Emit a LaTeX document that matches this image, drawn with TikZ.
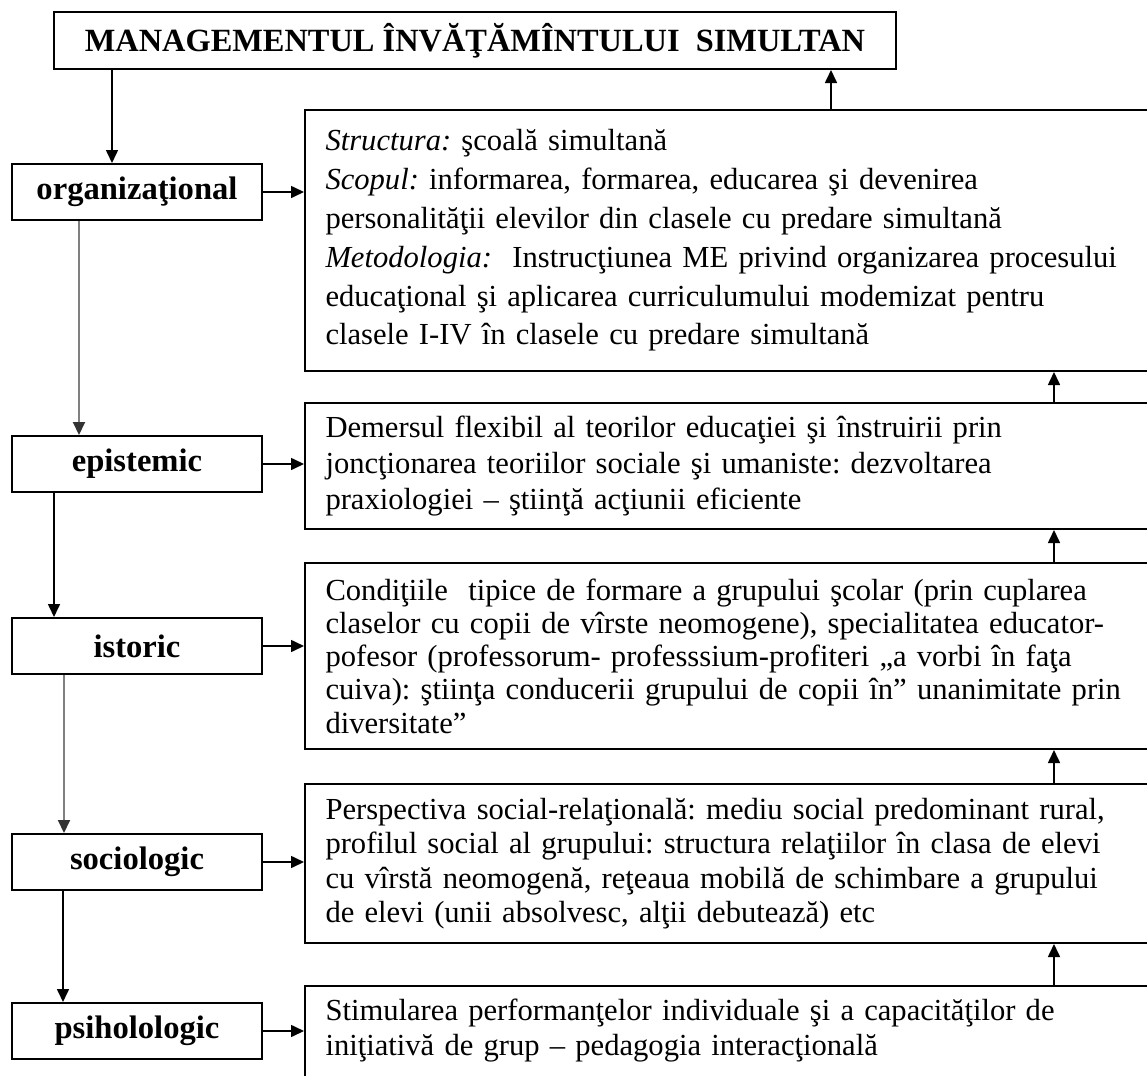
\documentclass[tikz,border=0pt]{standalone}
\usepackage{fontspec}
\setmainfont{Liberation Serif}
\usetikzlibrary{arrows.meta, positioning}
\frenchspacing

\begin{document}
\begin{tikzpicture}[
    x=0.5pt, y=0.5pt,
    titlebox/.style={
        rectangle, draw=black, line width=1pt, minimum width=421pt, minimum height=28.5pt,
        inner sep=0pt, align=center, font=\fontsize{16.2}{19}\selectfont\bfseries
    },
    levelbox/.style={
        rectangle, draw=black, line width=1pt, minimum width=125pt, minimum height=28pt,
        inner sep=0pt, align=center, font=\fontsize{16.3}{19}\selectfont\bfseries
    },
    infobox/.style={
        rectangle, draw=black, line width=1pt, anchor=north west, text width=429.5pt,
        inner xsep=10.25pt, inner ysep=0pt, align=left
    },
    arrow/.style={draw, line width=0.8pt, -{Triangle[length=6.5pt,width=6pt]}},
    greyarrow/.style={draw, line width=1pt, gray, -{Triangle[length=6.5pt,width=6pt,black!80]}}
]
\useasboundingbox (0,0) rectangle (1147,-1076);
\clip (0,0) rectangle (1147,-1076);

\node [titlebox] (title) at (475,-40.5) {MANAGEMENTUL ÎNVĂŢĂMÎNTULUI\ \ SIMULTAN};

% left column
\node [levelbox] (org) at (137,-192) {organizaţional};
\node [levelbox, below=107pt of org] (epi) {epistemic};
\node [levelbox, below=62pt of epi] (ist) {istoric};
\node [levelbox, below=79pt of ist] (soc) {sociologic};
\node [levelbox, below=55.5pt of soc] (psi) {psiholologic};

% right column
\node [infobox, minimum height=130.5pt, font=\fontsize{15.3}{19.4}\selectfont] (infoA) at (304,-109)
    {\textit{Structura:} şcoală simultană\\
     \textit{Scopul:} informarea, formarea, educarea şi devenirea\\
     personalităţii elevilor din clasele cu predare simultană\\
     \textit{Metodologia:}\ \ Instrucţiunea ME privind organizarea procesului\\
     educaţional şi aplicarea curriculumului modemizat pentru\\
     clasele I-IV în clasele cu predare simultană};
\node [infobox, minimum height=63pt, font=\fontsize{15.3}{18}\selectfont] (infoB) at (304,-402)
    {Demersul flexibil al teorilor educaţiei şi înstruirii prin\\
     joncţionarea teoriilor sociale şi umaniste: dezvoltarea\\
     praxiologiei – ştiinţă acţiunii eficiente};
\node [infobox, minimum height=93pt, font=\fontsize{15.3}{16.6}\selectfont] (infoC) at (304,-562)
    {Condiţiile\ \ tipice de formare a grupului şcolar (prin cuplarea\\
     claselor cu copii de vîrste neomogene), specialitatea educator-\\
     pofesor (professorum- professsium-profiteri „a vorbi în faţa\\
     cuiva): ştiinţa conducerii grupului de copii în” unanimitate prin\\
     diversitate”};
\node [infobox, minimum height=79.5pt, font=\fontsize{15.3}{17.2}\selectfont] (infoD) at (304,-783)
    {Perspectiva social-relaţională: mediu social predominant rural,\\
     profilul social al grupului: structura relaţiilor în clasa de elevi\\
     cu vîrstă neomogenă, reţeaua mobilă de schimbare a grupului\\
     de elevi (unii absolvesc, alţii debutează) etc};
\node [infobox, inner ysep=6.5pt, text depth=60pt, font=\fontsize{15.3}{17.5}\selectfont] (infoE) at (304,-985)
    {Stimularea performanţelor individuale şi a capacităţilor de\\
     iniţiativă de grup – pedagogia interacţională};

% vertical chain on the left
\coordinate (orgtop) at ([xshift=-12.5pt]org.north);
\draw [arrow] (title.south -| orgtop) -- (orgtop);
\draw [greyarrow] ([xshift=-29pt]org.south) -- ([xshift=-29pt]epi.north);
\draw [arrow]     ([xshift=-41.5pt]epi.south) -- ([xshift=-41.5pt]ist.north);
\draw [greyarrow] ([xshift=-36.5pt]ist.south) -- ([xshift=-36.5pt]soc.north);
\draw [arrow]     ([xshift=-37pt]soc.south) -- ([xshift=-37pt]psi.north);

% levels to descriptions
\draw [arrow] (org.east) -- (org.east -| infoA.west);
\draw [arrow] (epi.east) -- (epi.east -| infoB.west);
\draw [arrow] (ist.east) -- (ist.east -| infoC.west);
\draw [arrow] (soc.east) -- (soc.east -| infoD.west);
\draw [arrow] (psi.east) -- (psi.east -| infoE.west);

% upward chain on the right
\coordinate (upleft) at (831,0);
\coordinate (upright) at (1054,0);
\draw [arrow] (infoA.north -| upleft)  -- (title.south -| upleft);
\draw [arrow] (infoB.north -| upright) -- (infoA.south -| upright);
\draw [arrow] (infoC.north -| upright) -- (infoB.south -| upright);
\draw [arrow] (infoD.north -| upright) -- (infoC.south -| upright);
\draw [arrow] (infoE.north -| upright) -- (infoD.south -| upright);
\end{tikzpicture}
\end{document}
